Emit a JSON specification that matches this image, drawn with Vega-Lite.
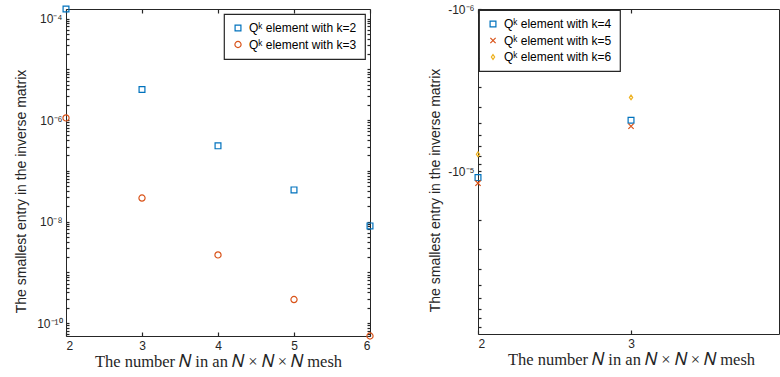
{
  "$schema": "https://vega.github.io/schema/vega-lite/v6.json",
  "padding": {"left": 14, "top": 2, "right": 0, "bottom": 0},
  "background": "white",
  "config": {
    "view": {"stroke": "#262626", "strokeWidth": 1},
    "axis": {
      "grid": false,
      "zindex": 1,
      "labelFont": "Liberation Sans",
      "labelFontSize": 12,
      "labelColor": "#262626",
      "domain": false,
      "ticks": true,
      "tickColor": "#262626",
      "tickWidth": 1.2,
      "titleColor": "#262626",
      "titleFontWeight": "normal"
    },
    "legend": {
      "labelFont": "Liberation Sans",
      "labelFontSize": 12,
      "labelColor": "#000000",
      "strokeColor": "#262626",
      "strokeWidth": 1.2,
      "fillColor": "white",
      "padding": 8,
      "rowPadding": 4.5,
      "labelOffset": 5,
      "symbolStrokeWidth": 1.2
    }
  },
  "datasets": {
    "left": [
      {"N": 2, "value": 1.54e-4, "series": "Qᵏ element with k=2"},
      {"N": 3, "value": 4.0e-6, "series": "Qᵏ element with k=2"},
      {"N": 4, "value": 3.1e-7, "series": "Qᵏ element with k=2"},
      {"N": 5, "value": 4.2e-8, "series": "Qᵏ element with k=2"},
      {"N": 6, "value": 8.2e-9, "series": "Qᵏ element with k=2"},
      {"N": 2, "value": 1.1e-6, "series": "Qᵏ element with k=3"},
      {"N": 3, "value": 2.9e-8, "series": "Qᵏ element with k=3"},
      {"N": 4, "value": 2.2e-9, "series": "Qᵏ element with k=3"},
      {"N": 5, "value": 2.9e-10, "series": "Qᵏ element with k=3"},
      {"N": 6, "value": 5.55e-11, "series": "Qᵏ element with k=3"}
    ],
    "right": [
      {"N": 2, "value": -1.09e-5, "series": "Qᵏ element with k=4"},
      {"N": 3, "value": -4.84e-6, "series": "Qᵏ element with k=4"},
      {"N": 2, "value": -1.18e-5, "series": "Qᵏ element with k=5"},
      {"N": 3, "value": -5.27e-6, "series": "Qᵏ element with k=5"},
      {"N": 2, "value": -7.83e-6, "series": "Qᵏ element with k=6"},
      {"N": 3, "value": -3.5e-6, "series": "Qᵏ element with k=6"}
    ]
  },
  "resolve": {
    "scale": {"color": "independent", "shape": "independent", "size": "independent", "x": "independent", "y": "independent"},
    "legend": {"color": "independent", "shape": "independent", "size": "independent"}
  },
  "spacing": 52,
  "hconcat": [
    {
      "width": 304,
      "height": 327,
      "data": {"name": "left"},
      "encoding": {
        "color": {
          "field": "series", "type": "nominal",
          "scale": {"domain": ["Qᵏ element with k=2", "Qᵏ element with k=3"], "range": ["#0072BD", "#D95319"]},
          "legend": {"title": null, "orient": "top-right", "offset": 5, "labelExpr": "datum.label + '\u00a0\u00a0\u00a0\u00a0\u00a0\u00a0\u00a0\u00a0\u00a0\u00a0\u00a0'"}
        },
        "shape": {
          "field": "series", "type": "nominal",
          "scale": {"domain": ["Qᵏ element with k=2", "Qᵏ element with k=3"], "range": ["square", "circle"]},
          "legend": {"title": null, "orient": "top-right", "offset": 5, "labelExpr": "datum.label + '\u00a0\u00a0\u00a0\u00a0\u00a0\u00a0\u00a0\u00a0\u00a0\u00a0\u00a0'"}
        },
        "size": {
          "field": "series", "type": "nominal",
          "scale": {"domain": ["Qᵏ element with k=2", "Qᵏ element with k=3"], "range": [34, 38]},
          "legend": {"title": null, "orient": "top-right", "offset": 5, "labelExpr": "datum.label + '\u00a0\u00a0\u00a0\u00a0\u00a0\u00a0\u00a0\u00a0\u00a0\u00a0\u00a0'"}
        }
      },
      "resolve": {"axis": {"x": "independent", "y": "independent"}},
      "layer": [
        {
          "transform": [{"filter": "datum.series == 'Qᵏ element with k=2'"}],
          "mark": {"type": "point", "filled": false, "strokeWidth": 1.2, "opacity": 1},
          "encoding": {
            "x": {
              "field": "N", "type": "quantitative",
              "scale": {"domain": [2, 6], "nice": false, "zero": false},
              "axis": {
                "orient": "bottom", "values": [2, 3, 4, 5, 6], "format": "d",
                "tickSize": -4, "labelPadding": 8,
                "title": "The number 𝑁 in an 𝑁 × 𝑁 × 𝑁 mesh",
                "titleFont": "Liberation Serif", "titleFontSize": 16.5, "titlePadding": 2
              }
            },
            "y": {
              "field": "value", "type": "quantitative",
              "scale": {"type": "log", "domain": [5.55e-11, 1.54e-4], "nice": false},
              "axis": {
                "orient": "left",
                "values": [1e-4, 9e-5, 8e-5, 7e-5, 6e-5, 5e-5, 4e-5, 3e-5, 2e-5, 1e-5, 9e-6, 8e-6, 7e-6, 6e-6, 5e-6, 4e-6, 3e-6, 2e-6, 1e-6, 9e-7, 8e-7, 7e-7, 6e-7, 5e-7, 4e-7, 3e-7, 2e-7, 1e-7, 9e-8, 8e-8, 7e-8, 6e-8, 5e-8, 4e-8, 3e-8, 2e-8, 1e-8, 9e-9, 8e-9, 7e-9, 6e-9, 5e-9, 4e-9, 3e-9, 2e-9, 1e-9, 9e-10, 8e-10, 7e-10, 6e-10, 5e-10, 4e-10, 3e-10, 2e-10, 1e-10, 9e-11, 8e-11, 7e-11, 6e-11],
                "labelExpr": "datum.value == 1e-4 ? '10⁻⁴' : datum.value == 1e-6 ? '10⁻⁶' : datum.value == 1e-8 ? '10⁻⁸' : datum.value == 1e-10 ? '10⁻¹⁰' : ''",
                "tickSize": -3,
                "labelPadding": 7,
                "labelOverlap": false,
                "title": "The smallest entry in the inverse matrix",
                "titleFont": "Liberation Sans", "titleFontSize": 14, "titlePadding": 8, "titleY": 182
              }
            }
          }
        },
        {
          "transform": [{"filter": "datum.series == 'Qᵏ element with k=3'"}],
          "mark": {"type": "point", "filled": false, "strokeWidth": 1.2, "opacity": 1},
          "encoding": {
            "x": {
              "field": "N", "type": "quantitative",
              "axis": {"orient": "top", "values": [2, 3, 4, 5, 6], "labels": false, "tickSize": -4, "title": null}
            },
            "y": {
              "field": "value", "type": "quantitative",
              "axis": {
                "orient": "right", "labels": false, "title": null,
                "values": [1e-4, 9e-5, 8e-5, 7e-5, 6e-5, 5e-5, 4e-5, 3e-5, 2e-5, 1e-5, 9e-6, 8e-6, 7e-6, 6e-6, 5e-6, 4e-6, 3e-6, 2e-6, 1e-6, 9e-7, 8e-7, 7e-7, 6e-7, 5e-7, 4e-7, 3e-7, 2e-7, 1e-7, 9e-8, 8e-8, 7e-8, 6e-8, 5e-8, 4e-8, 3e-8, 2e-8, 1e-8, 9e-9, 8e-9, 7e-9, 6e-9, 5e-9, 4e-9, 3e-9, 2e-9, 1e-9, 9e-10, 8e-10, 7e-10, 6e-10, 5e-10, 4e-10, 3e-10, 2e-10, 1e-10, 9e-11, 8e-11, 7e-11, 6e-11],
                "tickSize": -3
              }
            }
          }
        }
      ]
    },
    {
      "width": 301,
      "height": 325,
      "data": {"name": "right"},
      "encoding": {
        "color": {
          "field": "series", "type": "nominal",
          "scale": {"domain": ["Qᵏ element with k=4", "Qᵏ element with k=5", "Qᵏ element with k=6"], "range": ["#0072BD", "#D95319", "#EDB120"]},
          "legend": {"title": null, "orient": "top-left", "offset": 1, "labelExpr": "datum.label + '\u00a0\u00a0\u00a0\u00a0\u00a0\u00a0\u00a0\u00a0\u00a0\u00a0\u00a0\u00a0'"}
        },
        "shape": {
          "field": "series", "type": "nominal",
          "scale": {"domain": ["Qᵏ element with k=4", "Qᵏ element with k=5", "Qᵏ element with k=6"], "range": ["square", "M-1,-1L1,1M-1,1L1,-1", "M0,-1L0.7,0L0,1L-0.7,0Z"]},
          "legend": {"title": null, "orient": "top-left", "offset": 1, "labelExpr": "datum.label + '\u00a0\u00a0\u00a0\u00a0\u00a0\u00a0\u00a0\u00a0\u00a0\u00a0\u00a0\u00a0'"}
        },
        "size": {
          "field": "series", "type": "nominal",
          "scale": {"domain": ["Qᵏ element with k=4", "Qᵏ element with k=5", "Qᵏ element with k=6"], "range": [34, 22, 120]},
          "legend": {"title": null, "orient": "top-left", "offset": 1, "labelExpr": "datum.label + '\u00a0\u00a0\u00a0\u00a0\u00a0\u00a0\u00a0\u00a0\u00a0\u00a0\u00a0\u00a0'"}
        }
      },
      "resolve": {"axis": {"x": "independent", "y": "independent"}},
      "layer": [
        {
          "transform": [{"filter": "datum.series != 'Qᵏ element with k=6'"}],
          "mark": {"type": "point", "filled": false, "strokeWidth": 1.2, "opacity": 1},
          "encoding": {
            "x": {
              "field": "N", "type": "quantitative",
              "scale": {"domain": [2, 3.967], "nice": false, "zero": false},
              "axis": {
                "orient": "bottom", "values": [2, 3], "format": "d",
                "tickSize": -4, "labelPadding": 8,
                "title": "The number 𝑁 in an 𝑁 × 𝑁 × 𝑁 mesh",
                "titleFont": "Liberation Serif", "titleFontSize": 16.5, "titlePadding": 2,
                "titleX": 153
              }
            },
            "y": {
              "field": "value", "type": "quantitative",
              "scale": {"type": "log", "domain": [-1e-4, -1e-6], "nice": false, "zero": false},
              "axis": {
                "orient": "left",
                "values": [-1e-6, -2e-6, -3e-6, -4e-6, -5e-6, -6e-6, -7e-6, -8e-6, -9e-6, -1e-5, -2e-5, -3e-5, -4e-5, -5e-5, -6e-5, -7e-5, -8e-5, -9e-5],
                "labelExpr": "datum.value == -1e-6 ? '-10⁻⁶' : datum.value == -1e-5 ? '-10⁻⁵' : ''",
                "tickSize": -3,
                "labelPadding": 7,
                "labelOverlap": false,
                "title": "The smallest entry in the inverse matrix",
                "titleFont": "Liberation Sans", "titleFontSize": 14, "titlePadding": 5, "titleY": 181
              }
            }
          }
        },
        {
          "transform": [{"filter": "datum.series == 'Qᵏ element with k=6'"}],
          "mark": {"type": "point", "filled": false, "strokeWidth": 1.2, "opacity": 1},
          "encoding": {
            "x": {
              "field": "N", "type": "quantitative",
              "axis": {"orient": "top", "values": [2, 3], "labels": false, "tickSize": -4, "title": null}
            },
            "y": {
              "field": "value", "type": "quantitative",
              "axis": null
            }
          }
        }
      ]
    }
  ]
}
